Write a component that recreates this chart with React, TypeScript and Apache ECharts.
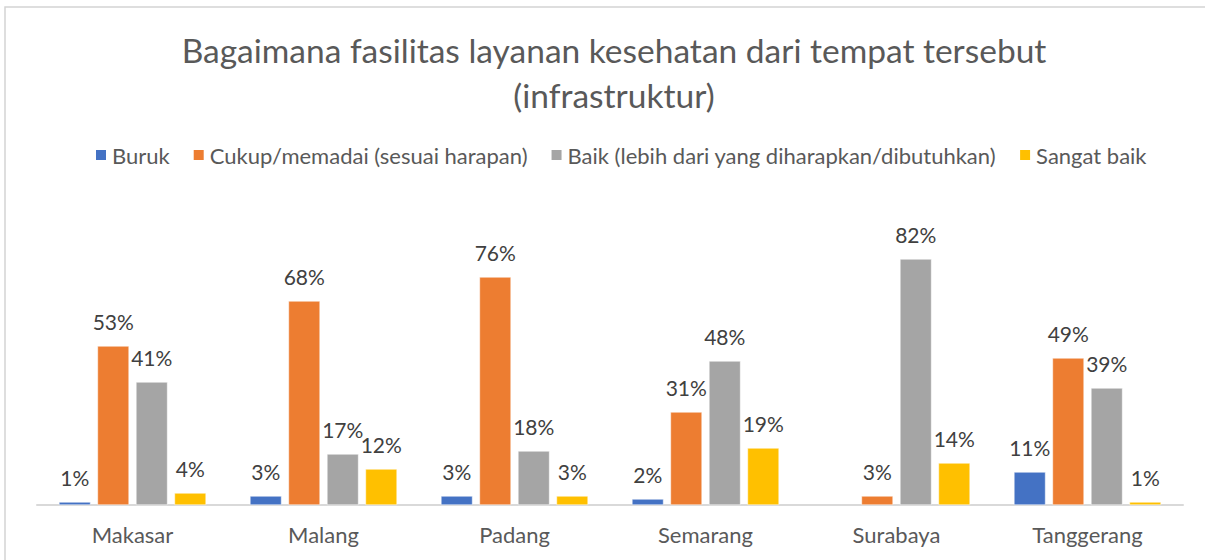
import React, { useEffect, useRef } from "react";
import * as echarts from "echarts";

const categories = ["Makasar", "Malang", "Padang", "Semarang", "Surabaya", "Tanggerang"];
const seriesNames = [
  "Buruk",
  "Cukup/memadai (sesuai harapan)",
  "Baik (lebih dari yang diharapkan/dibutuhkan)",
  "Sangat baik",
];
const buruk: (number | null)[] = [1, 3, 3, 2, null, 11];
const cukup: (number | null)[] = [53, 68, 76, 31, 3, 49];
const baik: (number | null)[] = [41, 17, 18, 48, 82, 39];
const sangatBaik: (number | null)[] = [4, 12, 3, 19, 14, 1];
const colors = ["#4472C4", "#ED7D31", "#A5A5A5", "#FFC000"];

const FONT = "Lato, 'Noto Sans', sans-serif";

export default function App() {
  const ref = useRef<HTMLDivElement>(null);
  useEffect(() => {
    if (!ref.current) return;
    const chart = echarts.init(ref.current, null, { renderer: "svg" });
    const values = [buruk, cukup, baik, sangatBaik];
    chart.setOption({
      animation: false,
      backgroundColor: "#ffffff",
      title: {
        text: "Bagaimana fasilitas layanan kesehatan dari tempat tersebut\n(infrastruktur)",
        left: 609,
        top: 22,
        textAlign: "center",
        textStyle: {
          fontFamily: FONT,
          fontSize: 33.5,
          fontWeight: "normal",
          color: "#595959",
          lineHeight: 45,
        },
      },
      legend: {
        top: 139,
        left: 89,
        icon: "rect",
        itemWidth: 12,
        itemHeight: 12,
        itemGap: 22,
        textStyle: { fontFamily: FONT, fontSize: 22, color: "#595959" },
        data: seriesNames,
      },
      graphic: [
        {
          type: "rect",
          shape: { x: 5, y: 7, width: 1250, height: 600 },
          style: { fill: "none", stroke: "#d4d4d4", lineWidth: 1.5 },
          silent: true,
        },
      ],
      grid: { left: 37, right: 22, top: 205, bottom: 55 },
      xAxis: {
        type: "category",
        data: categories,
        axisLine: { lineStyle: { color: "#d9d9d9", width: 2 } },
        axisTick: { show: false },
        axisLabel: {
          fontFamily: FONT,
          fontSize: 22,
          color: "#595959",
          margin: 18,
        },
      },
      yAxis: {
        type: "value",
        min: 0,
        max: 100,
        show: false,
        splitLine: { show: false },
      },
      series: seriesNames.map((name, i) => ({
        name,
        type: "bar",
        data: values[i],
        barGap: "22%",
        barCategoryGap: "23%",
        itemStyle: { color: colors[i], borderColor: "#ffffff", borderWidth: 0.5 },
        label: {
          show: true,
          position: "top",
          distance: 14,
          formatter: (p: any) => (p.value == null ? "" : p.value + "%"),
          fontFamily: FONT,
          fontSize: 21,
          color: "#404040",
        },
      })),
    });
    return () => chart.dispose();
  }, []);
  return (
    <div
      ref={ref}
      style={{ position: "absolute", left: 0, top: 0, width: 1205, height: 560 }}
    />
  );
}
